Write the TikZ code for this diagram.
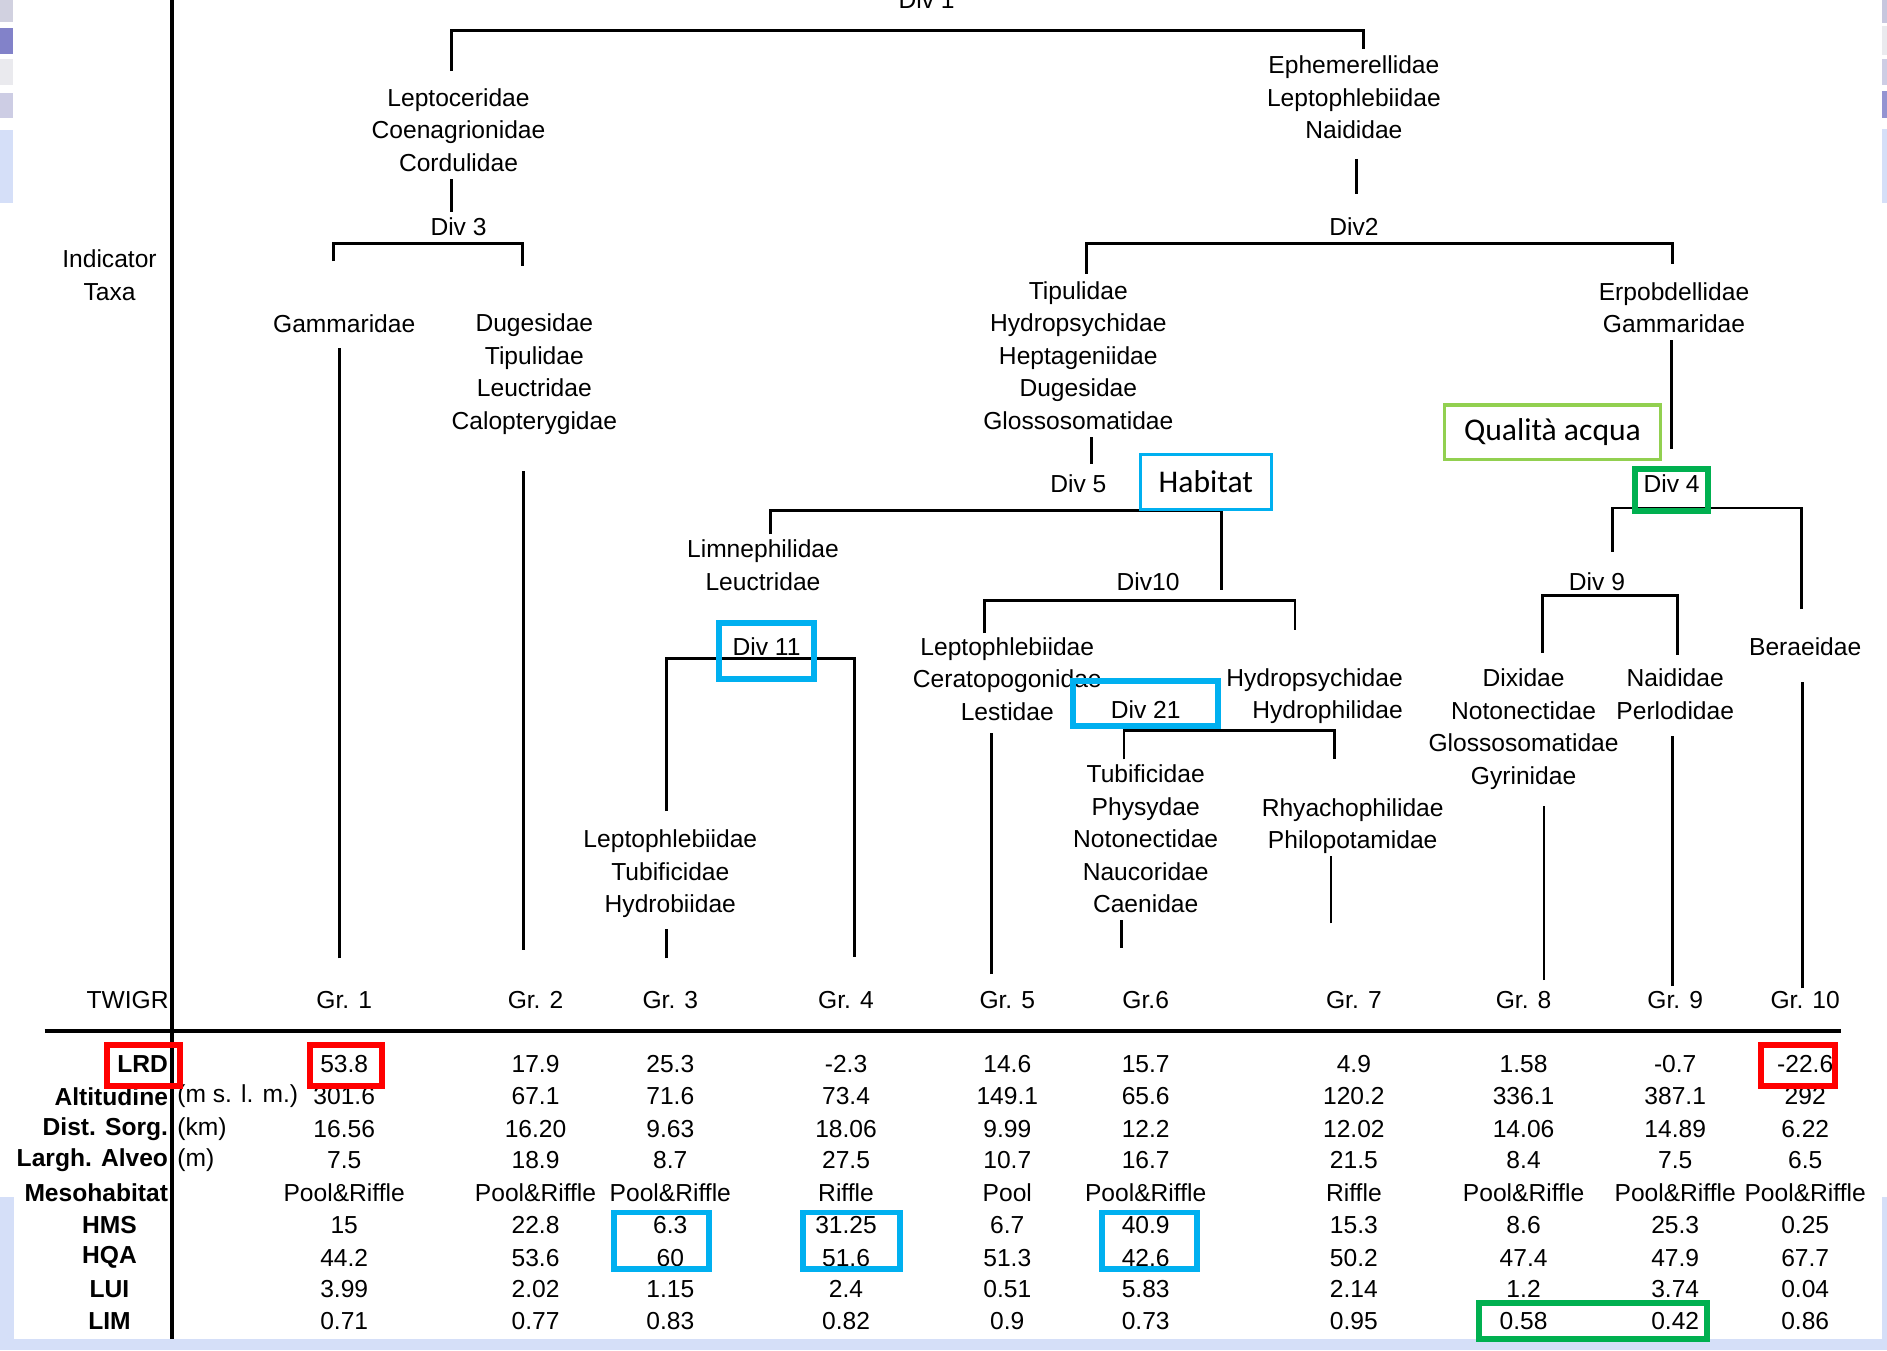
\documentclass[tikz,border=0pt]{standalone}
\usepackage{fontspec}
\setmainfont{Liberation Sans}
\newfontfamily\calibri{Carlito}
\usepackage{xcolor}
\usepackage{tikz}
\usetikzlibrary{positioning}

\definecolor{hicyan}{HTML}{00B0F0}
\definecolor{hired}{HTML}{FF0000}
\definecolor{higreen}{HTML}{00B050}
\definecolor{hilime}{HTML}{92D050}
\definecolor{slide}{HTML}{D5DFF8}

\begin{document}
\begin{tikzpicture}[x=0.012034cm, y=-0.012034cm]
    \tikzstyle{taxa} = [align=center, inner sep=2pt, font=\fontsize{7}{9.25}\selectfont]
    \tikzstyle{rowlab} = [inner sep=2pt, font=\fontsize{7}{9.25}\selectfont\bfseries]
    \tikzstyle{tree} = [line width=0.8pt]
    \tikzstyle{cyanbox} = [rectangle, draw=hicyan, line width=1.7pt, inner sep=0pt, font=\fontsize{7}{9.25}\selectfont]
    \tikzstyle{redbox} = [rectangle, draw=hired, line width=1.7pt, inner sep=0pt]
    \tikzstyle{greenbox} = [rectangle, draw=higreen, line width=1.7pt, inner sep=0pt, font=\fontsize{7}{9.25}\selectfont]
    \tikzstyle{thinbox} = [rectangle, fill=white, line width=0.9pt, inner sep=0pt, font=\calibri\fontsize{9}{11}\selectfont]

    \useasboundingbox (0,0) rectangle (1568,1122);

    % Slide background
    \fill[slide] (0,995) rectangle (11.6,1122);
    \fill[slide] (0,1113) rectangle (1568,1122);
    \fill[slide] (1564,995) rectangle (1568,1122);
    \fill[blue!20!gray!30] (0,0) rectangle (11,18);
    \fill[blue!40!gray!70] (0,23) rectangle (11,45);
    \fill[blue!10!gray!15] (0,49) rectangle (11,71);
    \fill[blue!30!gray!30] (0,77) rectangle (11,98);
    \fill[slide] (0,108) rectangle (11,169);
    \fill[blue!25!gray!35] (1564,0) rectangle (1568,19);
    \fill[blue!10!gray!15] (1564,22) rectangle (1568,46);
    \fill[blue!30!gray!30] (1564,49) rectangle (1568,71);
    \fill[blue!40!gray!60] (1564,76) rectangle (1568,98);
    \fill[slide] (1564,107) rectangle (1568,169);

    % Axes
    \draw[line width=1pt] (143,0) -- (143,1113);
    \draw[line width=1.2pt] (37,857) -- (1530,857);

    % Indicator taxa - left branch
    \node[taxa] (div1) at (770,0) {Div 1};
    \node[taxa] (lepto) at (381,108) {Leptoceridae\\Coenagrionidae\\Cordulidae};
    \node[taxa, below of=lepto, node distance=0.963cm] (div3) {Div 3};
    \node[taxa] (gamm) at (286,269) {Gammaridae};
    \node[taxa] (duges) at (444,311) {Dugesidae\\Tipulidae\\Leuctridae\\Calopterygidae};

    % Indicator taxa - right branch
    \node[taxa] (ephem) at (1125,81) {Ephemerellidae\\Leptophlebiidae\\Naididae};
    \node[taxa, below of=ephem, node distance=1.288cm] (div2) {Div2};
    \node[taxa] (tipul) at (896,295.5) {Tipulidae\\Hydropsychidae\\Heptageniidae\\Dugesidae\\Glossosomatidae};
    \node[taxa, below of=tipul, node distance=1.282cm] (div5) {Div 5};
    \node[taxa] (erpob) at (1391,255.5) {Erpobdellidae\\Gammaridae};
    \node[taxa] (limne) at (634,469.5) {Limnephilidae\\Leuctridae};
    \node[taxa] (lepto3) at (557,726) {Leptophlebiidae\\Tubificidae\\Hydrobiidae};
    \node[taxa] (div10) at (954,483) {Div10};
    \node[taxa] (lepto2) at (837,564) {Leptophlebiidae\\Ceratopogonidae\\Lestidae};
    \node[taxa, align=right, anchor=east] (hydro) at (1172,578.5) {Hydropsychidae\\Hydrophilidae};
    \node[taxa] (tubif) at (952,697) {Tubificidae\\Physydae\\Notonectidae\\Naucoridae\\Caenidae};
    \node[taxa] (rhyac) at (1124,686.5) {Rhyachophilidae\\Philopotamidae};
    \node[taxa] (div9) at (1327,483) {Div 9};
    \node[taxa] (dixid) at (1266,606) {Dixidae\\Notonectidae\\Glossosomatidae\\Gyrinidae};
    \node[taxa] (naidi) at (1392,577) {Naididae\\Perlodidae};
    \node[taxa] (berae) at (1500,537) {Beraeidae};
    \node[taxa] (indic) at (91,228.5) {Indicator\\Taxa};

    % TWIGR groups
    \node[taxa] (twigr) at (106,831) {TWIGR};
    \node[taxa] (gr1) at (286,831) {Gr. 1};
    \node[taxa] (gr2) at (445,831) {Gr. 2};
    \node[taxa] (gr3) at (557,831) {Gr. 3};
    \node[taxa] (gr4) at (703,831) {Gr. 4};
    \node[taxa] (gr5) at (837,831) {Gr. 5};
    \node[taxa] (gr6) at (952,831) {Gr.6};
    \node[taxa] (gr7) at (1125,831) {Gr. 7};
    \node[taxa] (gr8) at (1266,831) {Gr. 8};
    \node[taxa] (gr9) at (1392,831) {Gr. 9};
    \node[taxa] (gr10) at (1500,831) {Gr. 10};

    % Tree
    \draw[tree] (lepto.north) ++(-6,-8) |- ++(758,-34) -- ++(0,16);
    \draw[tree] (lepto.south) ++(-6,0) -- ++(0,27);
    \draw[tree] (gamm.north) ++(-9,-38) |- ++(157,-15) -- ++(0,19);
    \draw[tree] (gr1.north) ++(-4,-21) -- ++(0,-507);
    \draw[tree] (gr2.north) ++(-10,-28) -- ++(0,-398);
    \draw[tree] (ephem.south) ++(2,10) -- ++(0,29);
    \draw[tree] (tipul.north) ++(7,0) |- ++(487,-25) -- ++(0,17);
    \draw[tree] (tipul.south) ++(11,0) -- ++(0,22);
    \draw[tree] (limne.north) ++(6,2) |- ++(375,-20) -- ++(0,66);
    \draw[tree] (erpob.south) ++(-2,0) -- ++(0,90);
    \draw[tree] (berae.north) ++(-3,-17) |- ++(-157,-84) -- ++(0,37);
    \draw[tree] (dixid.north) ++(16,-7) |- ++(112,-48) -- ++(0,50);
    \draw[tree] (gr8.north) ++(17,-3) -- ++(0,-145);
    \draw[tree] (gr9.north) ++(-2,2) -- ++(0,-208);
    \draw[tree] (gr10.north) ++(-2,4) -- ++(0,-255);
    \draw[tree] (lepto2.north) ++(-19,3) |- ++(258,-27) -- ++(0,24);
    \draw[tree] (gr5.north) ++(-13,-8) -- ++(0,-200);
    \draw[tree] (tubif.north) ++(-18,2) |- ++(175,-24) -- ++(0,24);
    \draw[tree] (gr6.north) ++(-20,-30) -- ++(0,-23);
    \draw[tree] (gr7.north) ++(-19,-50) -- ++(0,-56);
    \draw[tree] (lepto3.north) ++(-3,-9) |- ++(156,-127) -- ++(0,248);
    \draw[tree] (gr3.north) ++(-3,-21) -- ++(0,-24);

    % Highlighted splits
    \node[thinbox, draw=hicyan, minimum width=1.312cm, minimum height=0.554cm] (habitat) at (1002,400.5) {Habitat};
    \node[thinbox, draw=hilime, minimum width=2.154cm, minimum height=0.542cm] (qual) at (1290,359) {Qualità acqua};
    \node[cyanbox, minimum width=0.951cm, minimum height=0.566cm, text height=5pt, text depth=2.7pt] (div11) at (637,541) {Div 11};
    \node[cyanbox, minimum width=1.456cm, minimum height=0.457cm, text height=8.8pt, text depth=0pt] (div21) at (952,584.5) {Div 21};
    \node[greenbox, minimum width=0.734cm, minimum height=0.421cm, text height=5pt, text depth=3.4pt] (div4) at (1389,407) {Div 4};

    % Table
    \foreach \y [count=\j] in {884,911,938,964,991,1018,1045,1071,1098}
        \coordinate (r\j) at (0,\y);
    \node[rowlab, anchor=east] (lrdlab) at (146,884) {LRD};
    \node[rowlab, anchor=east] (altlab) at (146,911) {Altitudine};
    \node[rowlab, anchor=east] (distlab) at (146,938) {Dist. Sorg.};
    \node[rowlab, anchor=east] (larghlab) at (146,964) {Largh. Alveo};
    \node[rowlab, anchor=east] (mesolab) at (146,991) {Mesohabitat};
    \node[rowlab] (hmslab) at (91,1018) {HMS};
    \node[rowlab] (hqalab) at (91,1045) {HQA};
    \node[rowlab] (luilab) at (91,1071) {LUI};
    \node[rowlab] (limlab) at (91,1098) {LIM};
    \node[taxa, anchor=west] (altunit) at (141,911) {(m s. l. m.)};
    \node[taxa, anchor=west] (distunit) at (141,938) {(km)};
    \node[taxa, anchor=west] (larghunit) at (141,964) {(m)};

    \foreach \v [count=\i] in {53.8,17.9,25.3,-2.3,14.6,15.7,4.9,1.58,-0.7,-22.6}
        \node[taxa] (lrd\i) at (gr\i |- r1) {\v};
    \foreach \v [count=\i] in {301.6,67.1,71.6,73.4,149.1,65.6,120.2,336.1,387.1,292}
        \node[taxa] (alt\i) at (gr\i |- r2) {\v};
    \foreach \v [count=\i] in {16.56,16.20,9.63,18.06,9.99,12.2,12.02,14.06,14.89,6.22}
        \node[taxa] (dist\i) at (gr\i |- r3) {\v};
    \foreach \v [count=\i] in {7.5,18.9,8.7,27.5,10.7,16.7,21.5,8.4,7.5,6.5}
        \node[taxa] (largh\i) at (gr\i |- r4) {\v};
    \foreach \v [count=\i] in {Pool\&Riffle,Pool\&Riffle,Pool\&Riffle,Riffle,Pool,Pool\&Riffle,Riffle,Pool\&Riffle,Pool\&Riffle,Pool\&Riffle}
        \node[taxa] (meso\i) at (gr\i |- r5) {\v};
    \foreach \v [count=\i] in {15,22.8,6.3,31.25,6.7,40.9,15.3,8.6,25.3,0.25}
        \node[taxa] (hms\i) at (gr\i |- r6) {\v};
    \foreach \v [count=\i] in {44.2,53.6,60,51.6,51.3,42.6,50.2,47.4,47.9,67.7}
        \node[taxa] (hqa\i) at (gr\i |- r7) {\v};
    \foreach \v [count=\i] in {3.99,2.02,1.15,2.4,0.51,5.83,2.14,1.2,3.74,0.04}
        \node[taxa] (lui\i) at (gr\i |- r8) {\v};
    \foreach \v [count=\i] in {0.71,0.77,0.83,0.82,0.9,0.73,0.95,0.58,0.42,0.86}
        \node[taxa] (lim\i) at (gr\i |- r9) {\v};

    % Highlighted cells
    \node[redbox, minimum width=0.734cm, minimum height=0.409cm] (hilrd) at (119,885.5) {};
    \node[redbox, minimum width=0.722cm, minimum height=0.409cm] (hilrdA) at (287.5,885.5) {};
    \node[redbox, minimum width=0.734cm, minimum height=0.409cm] (hilrdB) at (1494,885.5) {};
    \node[cyanbox, minimum width=0.951cm, minimum height=0.566cm] (hihmsA) at (550,1031) {};
    \node[cyanbox, minimum width=0.963cm, minimum height=0.566cm] (hihmsB) at (707.5,1031) {};
    \node[cyanbox, minimum width=0.951cm, minimum height=0.566cm] (hihmsC) at (955,1031) {};
    \node[greenbox, minimum width=2.286cm, minimum height=0.361cm] (hilim) at (1323.5,1097.5) {};
\end{tikzpicture}
\end{document}
